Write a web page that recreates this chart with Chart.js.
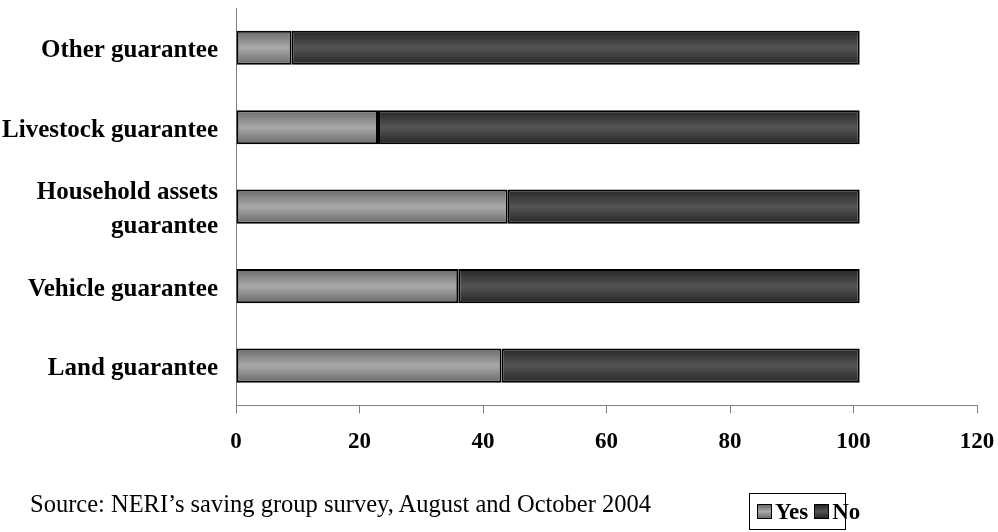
<!DOCTYPE html>
<html>
<head>
<meta charset="utf-8">
<script src="https://cdn.jsdelivr.net/npm/chart.js@4/dist/chart.umd.min.js"></script>
<style>
  html, body { margin: 0; padding: 0; background: #fff; }
  #wrap { position: relative; width: 998px; height: 532px; }
  canvas { position: absolute; left: 0; top: 0; }
  #source {
    position: absolute; left: 30px; top: 490px;
    font-family: "Liberation Serif", "Times New Roman", serif;
    font-size: 24.5px; color: #000; white-space: nowrap;
  }
  #legend {
    position: absolute; left: 749px; top: 493px; width: 97px; height: 37px;
    border: 1px solid #000; box-sizing: border-box;
    font-family: "Liberation Serif", "Times New Roman", serif;
    font-weight: bold; font-size: 23px; color: #000;
    display: flex; align-items: center; padding-left: 7px;
  }
  .sw { width: 15px; height: 15px; border: 1px solid #000; box-sizing: border-box; display: inline-block; margin-right: 3px; }
  .item { display: flex; align-items: center; margin-right: 6px; }
</style>
</head>
<body>
<div id="wrap">
  <canvas id="c" width="998" height="532"></canvas>
  <div id="source">Source: NERI’s saving group survey, August and October 2004</div>
  <div id="legend"></div>
</div>
<script>
// Survey answers per type of loan guarantee (percent of respondents)
const categories = ["Other guarantee", "Livestock guarantee", ["Household assets", "guarantee"], "Vehicle guarantee", "Land guarantee"];
const yesValues = [9, 23, 44, 36, 43];
const noValues = [92, 78, 57, 65, 58];
const xTicks = [0, 20, 40, 60, 80, 100, 120];

// Shaded fills: [edge colour, centre colour]
const shades = {
  Yes: ["#6a6a6a", "#a9a9a9"],
  No: ["#262626", "#545454"]
};

function barGradient(ctx, pair) {
  const chart = ctx.chart;
  const yScale = chart.scales.y;
  if (!yScale || !chart.chartArea) return pair[1];
  const center = yScale.getPixelForValue(ctx.dataIndex);
  const half = 17;
  const g = chart.ctx.createLinearGradient(0, center - half, 0, center + half);
  g.addColorStop(0, pair[0]);
  g.addColorStop(0.5, pair[1]);
  g.addColorStop(1, pair[0]);
  return g;
}

const serif = "'Liberation Serif', 'Times New Roman', serif";

new Chart(document.getElementById("c"), {
  type: "bar",
  data: {
    labels: categories,
    datasets: [
      {
        label: "Yes",
        data: yesValues,
        backgroundColor: (ctx) => barGradient(ctx, shades.Yes),
        borderColor: "#000",
        borderWidth: 2,
        borderSkipped: false
      },
      {
        label: "No",
        data: noValues,
        backgroundColor: (ctx) => barGradient(ctx, shades.No),
        borderColor: "#000",
        borderWidth: 2,
        borderSkipped: false
      }
    ]
  },
  options: {
    indexAxis: "y",
    responsive: false,
    animation: false,
    layout: { padding: { top: 8, right: 21, bottom: 61, left: 0 } },
    datasets: { bar: { categoryPercentage: 0.86, barPercentage: 0.5 } },
    plugins: { legend: { display: false }, tooltip: { enabled: false } },
    scales: {
      x: {
        stacked: true,
        min: 0,
        max: 120,
        afterBuildTicks: (scale) => { scale.ticks = xTicks.map(v => ({ value: v })); },
        afterFit: (scale) => { scale.paddingLeft = 0; scale.paddingRight = 0; },
        grid: { drawOnChartArea: false, drawTicks: true, tickLength: 8, color: "#808080" },
        border: { color: "#808080", width: 1 },
        ticks: { color: "#000", padding: 15, font: { family: serif, size: 23, weight: "bold" } }
      },
      y: {
        stacked: true,
        afterFit: (scale) => { scale.width = 236; scale.paddingTop = 0; scale.paddingBottom = 0; },
        grid: { display: false },
        border: { color: "#808080", width: 1 },
        ticks: { color: "#000", padding: 10, labelOffset: 3, font: { family: serif, size: 25, weight: "bold", lineHeight: 1.35 } }
      }
    }
  }
});

// Legend entries
const legend = document.getElementById("legend");
["Yes", "No"].forEach((name) => {
  const item = document.createElement("span");
  item.className = "item";
  const sw = document.createElement("span");
  sw.className = "sw";
  const s = shades[name];
  sw.style.background = `linear-gradient(to bottom, ${s[0]}, ${s[1]}, ${s[0]})`;
  item.appendChild(sw);
  item.appendChild(document.createTextNode(name));
  legend.appendChild(item);
});
</script>
</body>
</html>
